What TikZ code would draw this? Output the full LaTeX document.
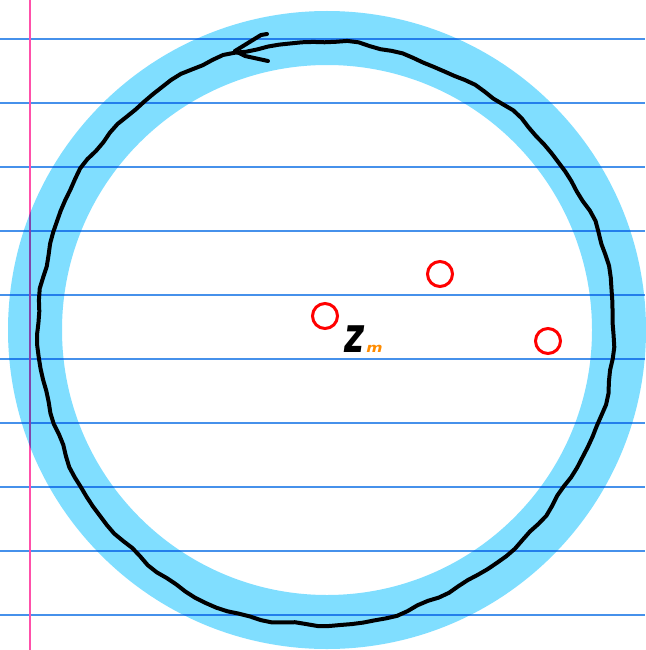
\documentclass[tikz,border=0pt]{standalone}
\usepackage{fontspec}
\usepackage{graphicx}
\newfontfamily\penfont{DejaVu Sans}
\usetikzlibrary{positioning}
\definecolor{ruleblue}{RGB}{70,145,235}
\definecolor{marginpink}{RGB}{255,80,170}
\definecolor{ringblue}{RGB}{128,222,255}
\definecolor{penorange}{RGB}{255,140,0}
\tikzset{
  notebookline/.style={ruleblue, line width=1.3pt},
  ptcircle/.style={circle, draw=red, line width=3pt, minimum size=25pt, inner sep=0pt},
  penstroke/.style={line width=4pt, line cap=round, line join=round},
}
\begin{document}
\begin{tikzpicture}[x=1pt,y=-1pt]
  \useasboundingbox (0,0) rectangle (645,650);
  \fill[white] (0,0) rectangle (645,650);

  % Heftlinien
  \foreach \y in {39,103,...,615}
    \draw[notebookline] (0,\y) -- (645,\y);
  \draw[marginpink, line width=1.6pt] (30,0) -- (30,650);

  % Ring
  \begin{scope}[blend mode=multiply]
    \fill[ringblue, even odd rule] (327,330) circle[radius=319] (327,330) circle[radius=265];
  \end{scope}

  % Handgezeichnete Schleife mit Pfeil
  \draw[penstroke] plot[domain=0:360, samples=160]
    ({324 + (288 + 3*sin(3*\x+20) + 1.2*sin(11*\x) + 0.9*sin(29*\x+40) + 0.6*sin(41*\x))*cos(\x+108)},
     {332 - (292 + 3*sin(3*\x+20) + 1.2*sin(11*\x) + 0.9*sin(29*\x+40) + 0.6*sin(41*\x))*sin(\x+108)});
  \coordinate (tip) at (235,51);
  \draw[penstroke] (tip) -- ++(26,-16) -- ++(6,-1);
  \draw[penstroke] (tip) -- ++(10,5) -- ++(23,5);

  % Punkte
  \node[ptcircle] (p1) at (325,316) {};
  \node[ptcircle] (p2) at (440,274) {};
  \node[ptcircle] (p3) at (548,341) {};

  % Beschriftung
  \node[anchor=base, inner sep=0pt] (zlab) at (355,352)
    {\scalebox{0.72}[1.02]{\penfont\fontsize{48}{48}\selectfont\bfseries\itshape z}};
  \node[base right=1pt of zlab, inner sep=0pt, text=penorange] (mlab)
    {\scalebox{1.2}[1]{\penfont\fontsize{13}{13}\selectfont\bfseries\itshape m}};
\end{tikzpicture}
\end{document}
